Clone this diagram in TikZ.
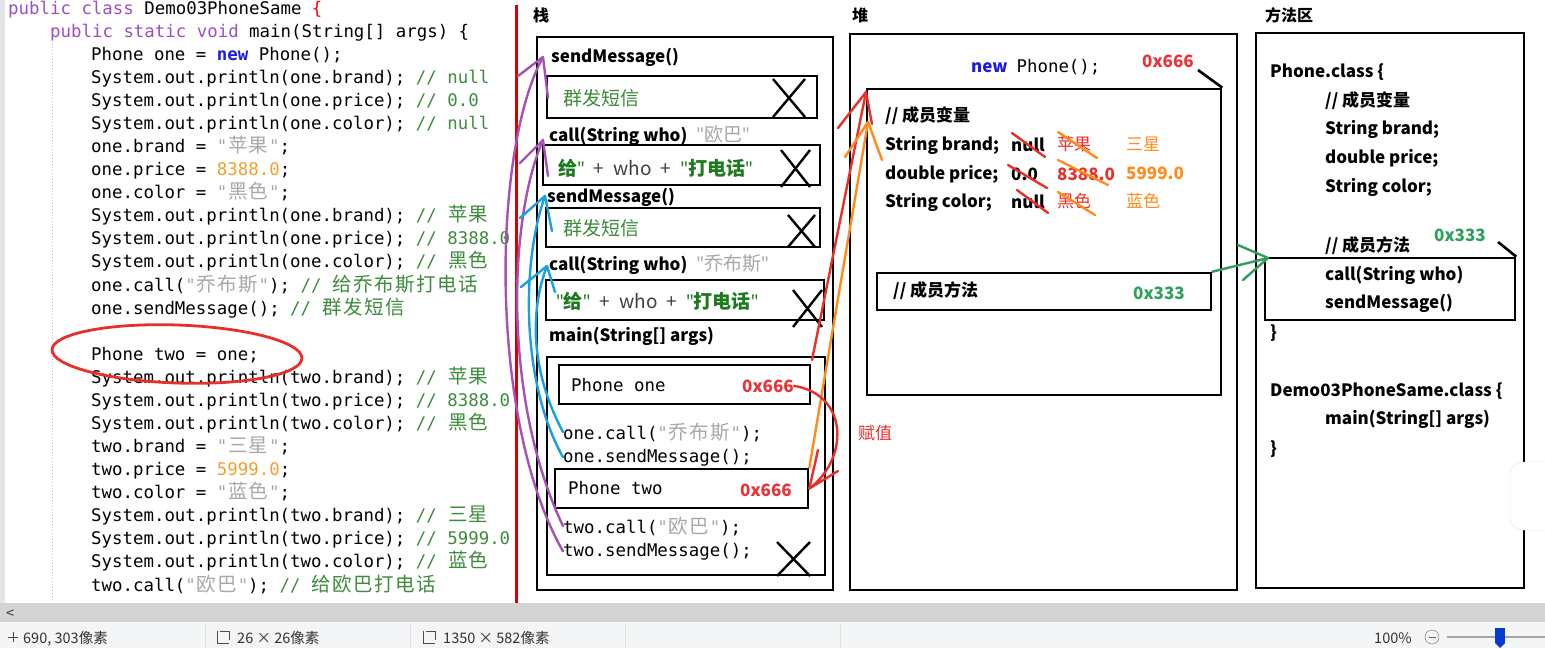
\documentclass[tikz,border=0pt]{standalone}
\usepackage{fontspec}
\setmainfont{Noto Sans CJK SC}
\setmonofont{DejaVu Sans Mono}
\newfontfamily\zhfont{Noto Sans CJK SC}
\newfontfamily\qfont{Noto Sans}
\usepackage{xcolor}
\usetikzlibrary{positioning, fit}
\definecolor{kwpurple}{HTML}{9C4FBF}
\definecolor{kwblue}{HTML}{1C1CE0}
\definecolor{cmtgreen}{HTML}{3C8C3C}
\definecolor{strgrey}{HTML}{A8A8A8}
\definecolor{numorange}{HTML}{F0A030}
\definecolor{addrred}{HTML}{E8333A}
\definecolor{addrgreen}{HTML}{2EA05A}
\definecolor{txtgreen}{HTML}{3A8A3A}
\definecolor{boldgreen}{HTML}{1E7A1E}
\definecolor{penred}{HTML}{E8302A}
\definecolor{penorange}{HTML}{FF8C1A}
\definecolor{penviolet}{HTML}{A552B5}
\definecolor{penblue}{HTML}{1A9FE0}
\definecolor{pengreen}{HTML}{2E9E5E}
\definecolor{barbg}{HTML}{F4F5F7}
\definecolor{scrollgrey}{HTML}{D4D4D4}
\newcommand\codefont{\ttfamily\fontsize{17.4}{20}\selectfont}
\newcommand\lblfont{\fontsize{17}{20}\selectfont\bfseries}
\newcommand\zhtext{\fontsize{19}{22}\selectfont}
% CJK characters in code take two monospace cells
\newlength\cjkcell
\setlength\cjkcell{20.9pt}
\newcommand\zc[1]{\zcloop#1\relax}
\def\zcloop#1{\ifx#1\relax\else\makebox[\cjkcell]{\zhfont\fontsize{19.5}{20}\selectfont#1}\expandafter\zcloop\fi}
\newcommand\q{{\qfont"}}
\newcommand\gap{\hspace{9pt}}
\newcommand\kw[1]{\textcolor{kwpurple}{#1}}
\newcommand\cmt[1]{\textcolor{cmtgreen}{#1}}
\newcommand\str[1]{\textcolor{strgrey}{#1}}
\newcommand\nm[1]{\textcolor{numorange}{#1}}
\newcommand\nw{\textcolor{kwblue}{\textbf{new}}}
\newcommand\crossat[4]{\draw[cross] (#1,#2) -- (#3,#4) (#1,#4) -- (#3,#2);}
\tikzset{
  box/.style={draw=black, line width=2.6pt, inner sep=0, rectangle},
  code/.style={font=\codefont, anchor=base west, inner sep=0},
  lbl/.style={font=\lblfont, anchor=base west, inner sep=0},
  lblr/.style={font=\fontsize{17}{20}\selectfont, anchor=base west, inner sep=0},
  title/.style={font=\fontsize{16}{18}\selectfont\bfseries, anchor=base west, inner sep=0},
  addr/.style={font=\lblfont, anchor=base west, inner sep=0},
  cross/.style={line width=2.4pt},
  pen/.style={line width=2.4pt, line cap=round, line join=round},
  status/.style={font=\fontsize{14.5}{16}\selectfont, text=black!80, anchor=base west, inner sep=0},
}

\begin{document}
\begin{tikzpicture}[x=1pt, y=-1pt]
\useasboundingbox (0,0) rectangle (1545,648);
\fill[white] (0,0) rectangle (1545,648);
\fill[blue!8!black!10] (0,0) rectangle (5,603);
\draw[black!25, dotted, line width=1pt] (52,44) -- (52,600);

% code
\node[code] (l1) at (8,14) {\kw{public class} Demo03PhoneSame \textcolor{red}{\{}};
\node[code] (l2) at (50,37.1) {\kw{public static void} main(String[] args) \{};
\node[code] (l3) at (91,60.2) {Phone one = \nw{} Phone();};
\node[code] (l4) at (91,83.2) {System.out.println(one.brand); \cmt{// null}};
\node[code] (l5) at (91,106.3) {System.out.println(one.price); \cmt{// 0.0}};
\node[code] (l6) at (91,129.4) {System.out.println(one.color); \cmt{// null}};
\node[code] (l7) at (91,152.5) {one.brand = \str{"\zc{苹果}"};};
\node[code] (l8) at (91,175.6) {one.price = \nm{8388.0};};
\node[code] (l9) at (91,198.6) {one.color = \str{"\zc{黑色}"};};
\node[code] (l10) at (91,221.7) {System.out.println(one.brand); \cmt{// \zc{苹果}}};
\node[code] (l11) at (91,244.8) {System.out.println(one.price); \cmt{// 8388.0}};
\node[code] (l12) at (91,267.9) {System.out.println(one.color); \cmt{// \zc{黑色}}};
\node[code] (l13) at (91,291) {one.call(\str{"\zc{乔布斯}"}); \cmt{// \zc{给乔布斯打电话}}};
\node[code] (l14) at (91,314) {one.sendMessage(); \cmt{// \zc{群发短信}}};
\node[code] (l16) at (91,360.2) {Phone two = one;};
\node[code] (l17) at (91,383.3) {System.out.println(two.brand); \cmt{// \zc{苹果}}};
\node[code] (l18) at (91,406.4) {System.out.println(two.price); \cmt{// 8388.0}};
\node[code] (l19) at (91,429.4) {System.out.println(two.color); \cmt{// \zc{黑色}}};
\node[code] (l20) at (91,452.5) {two.brand = \str{"\zc{三星}"};};
\node[code] (l21) at (91,475.6) {two.price = \nm{5999.0};};
\node[code] (l22) at (91,498.7) {two.color = \str{"\zc{蓝色}"};};
\node[code] (l23) at (91,521.8) {System.out.println(two.brand); \cmt{// \zc{三星}}};
\node[code] (l24) at (91,544.8) {System.out.println(two.price); \cmt{// 5999.0}};
\node[code] (l25) at (91,567.9) {System.out.println(two.color); \cmt{// \zc{蓝色}}};
\node[code] (l26) at (91,591) {two.call(\str{"\zc{欧巴}"}); \cmt{// \zc{给欧巴打电话}}};
\draw[penred, line width=2.8pt, rotate around={-2:(177,354)}] (177,354) ellipse [x radius=125, y radius=29];
\draw[red!85!black, line width=3pt] (516,5) -- (516,603);

% stack
\node[title] (stacklbl) at (533,21) {栈};
\node[box, fit={(537,37) (833,590)}] (stack) {};
\node[lbl] (smA) at (551,62) {sendMessage()};
\node[box, fit={(547,76) (817,118)}] (boxA) {};
\node[anchor=base west, inner sep=0, font=\zhtext, text=txtgreen] (msgA) at (563,105) {群发短信};
\node[lbl] (callA) at (549,141) {call(String who)\gap\textcolor{strgrey}{\mdseries\zhtext\q 欧巴\q}};
\node[box, fit={(543,145) (820,185)}] (boxB) {};
\node[anchor=base west, inner sep=0, font=\zhtext] (telA) at (558,175)
  {\textcolor{boldgreen}{\textbf{给\q}}\textcolor{black!75}{\gap+\gap who\gap+\gap}\textcolor{boldgreen}{\textbf{\q 打电话\q}}};
\node[lbl] (smB) at (547,202) {sendMessage()};
\node[box, fit={(546,208) (820,247)}] (boxC) {};
\node[anchor=base west, inner sep=0, font=\zhtext, text=txtgreen] (msgB) at (563,235) {群发短信};
\node[lbl] (callB) at (549,270) {call(String who)\gap\textcolor{strgrey}{\mdseries\zhtext\q 乔布斯\q}};
\node[box, fit={(546,280) (824,320)}] (boxD) {};
\node[anchor=base west, inner sep=0, font=\zhtext] (telB) at (556,308)
  {\textcolor{boldgreen}{\textbf{\q 给\q}}\textcolor{black!75}{\gap+\gap who\gap+\gap}\textcolor{boldgreen}{\textbf{\q 打电话\q}}};
\node[lbl] (mainlbl) at (549,341) {main(String[] args)};
\node[box, fit={(547,357) (825,575)}] (mainbox) {};
\node[box, fit={(559,365) (810,404)}] (onebox) {};
\node[code] (oneref) at (571,391) {Phone one};
\node[addr, text=addrred] (oneaddr) at (742,392) {0x666};
\node[code] (onecall) at (563,439) {one.call(\str{"\zc{乔布斯}"});};
\node[code] (onesend) at (563,462) {one.sendMessage();};
\node[box, fit={(555,469) (808,508)}] (twobox) {};
\node[code] (tworef) at (568,494) {Phone two};
\node[addr, text=addrred] (twoaddr) at (740,496) {0x666};
\node[code] (twocall) at (563,533) {two.call(\str{"\zc{欧巴}"});};
\node[code] (twosend) at (563,556) {two.sendMessage();};
\crossat{773}{79}{805}{117}
\crossat{781}{150}{810}{187}
\crossat{788}{215}{815}{247}
\crossat{793}{290}{822}{327}
\crossat{777}{542}{810}{576}

% heap
\node[title] (heaplbl) at (852,21) {堆};
\node[box, fit={(850,34) (1237,590)}] (heap) {};
\node[anchor=base west, inner sep=0] (newph) at (971,72) {\textcolor{kwblue}{\lblfont new}\hspace{9pt}\codefont Phone();};
\node[addr, text=addrred] (objaddr) at (1142,67) {0x666};
\node[box, fit={(867,89) (1221,395)}] (obj) {};
\draw[line width=2.6pt] (1198,70) -- (obj.north east);
\node[lbl] (mvlbl) at (885,121) {// 成员变量};
\node[lbl] (brand) at (885,150) {String brand;};
\node[lbl] (price) at (885,179) {double price;};
\node[lbl] (color) at (885,207) {String color;};
\node[lbl] (b0) at (1011,151) {null};
\node[lbl] (p0) at (1011,180) {0.0};
\node[lbl] (c0) at (1011,208) {null};
\node[lblr, text=penred] (b1) at (1057,150) {苹果};
\node[lbl, text=penred] (p1) at (1057,180) {8388.0};
\node[lblr, text=penred] (c1) at (1057,207) {黑色};
\node[lblr, text=penorange] (b2) at (1126,150) {三星};
\node[lbl, text=penorange] (p2) at (1126,179) {5999.0};
\node[lblr, text=penorange] (c2) at (1126,207) {蓝色};
\draw[pen, penred] (1012,133) -- (1045,157) (1008,165) -- (1047,188) (1017,190) -- (1048,213);
\draw[pen, penorange] (1058,132) -- (1097,158) (1058,160) -- (1108,185) (1058,192) -- (1095,215);
\node[box, fit={(877,273) (1211,310)}] (mmbox) {};
\node[lbl] (mmlbl) at (893,296) {// 成员方法};
\node[addr, text=addrgreen] (mmaddr) at (1133,299) {0x333};

% method area
\node[title] (malbl) at (1265,21) {方法区};
\node[box, fit={(1256,33) (1524,588)}] (methodarea) {};
\node[lbl] (phcls) at (1270,77) {Phone.class \{};
\node[lbl] (pmv) at (1325,106) {// 成员变量};
\node[lbl] (pbrand) at (1325,134) {String brand;};
\node[lbl] (pprice) at (1325,163) {double price;};
\node[lbl] (pcolor) at (1325,192) {String color;};
\node[lbl] (pmm) at (1325,251) {// 成员方法};
\node[addr, text=addrgreen] (paddr) at (1434,241) {0x333};
\node[box, fit={(1265,258) (1515,320)}] (methods) {};
\draw[line width=2.6pt] (1498,242) -- (methods.north east);
\node[lbl] (pcall) at (1325,280) {call(String who)};
\node[lbl] (psend) at (1325,308) {sendMessage()};
\node[lbl] (pend) at (1270,338) {\}};
\node[lbl] (dcls) at (1270,396) {Demo03PhoneSame.class \{};
\node[lbl] (dmain) at (1325,424) {main(String[] args)};
\node[lbl] (dend) at (1270,454) {\}};

% hand drawn arrows
\coordinate (tipA) at (543,57);
\coordinate (tipB) at (543,140);
\coordinate (tipC) at (545,196);
\coordinate (tipD) at (547,266);
\draw[pen, penviolet] (twosend.west) .. controls (488,420) and (492,150) .. (tipA);
\draw[pen, penviolet] (518,76) -- (tipA) -- (548,98);
\draw[pen, penviolet] (twocall.west) .. controls (503,400) and (508,220) .. (tipB);
\draw[pen, penviolet] (520,163) -- (tipB) -- (548,176);
\draw[pen, penblue] (onesend.west) .. controls (520,380) and (522,260) .. (tipC);
\draw[pen, penblue] (520,218) -- (tipC) -- (552,231);
\draw[pen, penblue] (onecall.west) .. controls (530,370) and (530,310) .. (tipD);
\draw[pen, penblue] (521,287) -- (tipD) -- (555,292);
\coordinate (objtip) at (866,92);
\coordinate (objtip2) at (868,122);
\draw[pen, penred] (812,360) -- (objtip);
\draw[pen, penred] (838,128) -- (objtip) -- (872,124);
\draw[pen, penorange] (twobox.north east) -- (objtip2);
\draw[pen, penorange] (845,157) -- (objtip2) -- (882,160);
\draw[pen, penred] (oneaddr.east) .. controls (850,395) and (848,460) .. (twobox.east);
\draw[pen, penred] (818,450) -- (twobox.east) -- (838,471);
\node[anchor=base west, inner sep=0, font=\fontsize{17}{20}\selectfont, text=penred] (assign) at (858,439) {赋值};
\coordinate (mtip) at (1268,258);
\draw[pen, pengreen] (mmbox.north east) -- (mtip);
\draw[pen, pengreen] (1238,245) -- (mtip) -- (1243,280);

% floating button on the right
\fill[white, draw=black!12, rounded corners=12pt] (1510,462) rectangle (1560,530);

% scrollbar and status bar
\fill[scrollgrey] (0,603) rectangle (1545,622);
\node[status] (leftarrow) at (6,618) {<};
\fill[barbg] (0,622) rectangle (1545,648);
\draw[black!12] (205,624) -- (205,648) (410,624) -- (410,648) (625,624) -- (625,648) (840,624) -- (840,648);
\draw[black!70, line width=0.8pt] (8,637) -- (18,637) (13,632) -- (13,642);
\node[status] (pos) at (23,643) {690, 303像素};
\draw[black!70, line width=0.8pt] (217,631) -- (217,643) -- (229,643) (220,631) -- (229,631) -- (229,640);
\node[status] (sel) at (237,643) {26 × 26像素};
\draw[black!70, line width=0.8pt] (423,631) -- (423,643) -- (435,643) (426,631) -- (435,631) -- (435,640);
\node[status] (img) at (443,643) {1350 × 582像素};
\node[status] (zoompct) at (1374,643) {100\%};
\draw[black!60] (1432,637) circle (7);
\draw[black!60] (1428.5,637) -- (1435.5,637);
\draw[black!35, line width=1.5pt] (1447,637) -- (1545,637);
\fill[blue!70!cyan!80!black] (1495,628) rectangle (1505,643);
\fill[blue!70!cyan!80!black] (1495,643) -- (1505,643) -- (1500,648) -- cycle;
\end{tikzpicture}
\end{document}
